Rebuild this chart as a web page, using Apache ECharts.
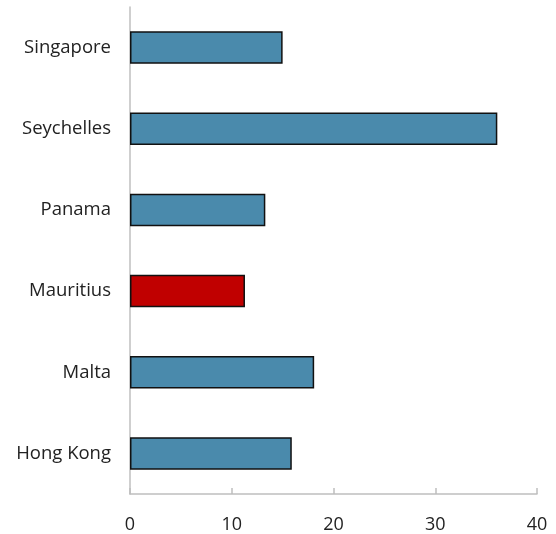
<!DOCTYPE html>
<html><head><meta charset="utf-8">
<script src="https://cdn.jsdelivr.net/npm/echarts@6/dist/echarts.min.js"></script>
<style>html,body{margin:0;padding:0;background:#fff}#c{width:556px;height:534px}</style>
</head><body><div id="c"></div>
<script>
const categories = ["Hong Kong", "Malta", "Mauritius", "Panama", "Seychelles", "Singapore"];
const values = [15.9, 18.1, 11.3, 13.3, 36.1, 15.0];
const highlight = "Mauritius";
const xTicks = [0, 10, 20, 30, 40];

const chart = echarts.init(document.getElementById('c'));
chart.setOption({
  animation: false,
  grid: {left: 130, right: 19, top: 7, bottom: 39, containLabel: false},
  xAxis: {
    type: 'value', min: xTicks[0], max: xTicks[xTicks.length-1], interval: 10,
    axisLine: {show: true, lineStyle: {color: '#bfbfbf', width: 1.5}},
    axisTick: {show: true, inside: true, length: 6, lineStyle: {color: '#bfbfbf', width: 1.5}},
    splitLine: {show: false},
    axisLabel: {color: '#222', fontSize: 18, fontFamily: 'Open Sans', margin: 22}
  },
  yAxis: {
    type: 'category', data: categories,
    axisLine: {show: true, lineStyle: {color: '#bfbfbf', width: 1.5}},
    axisTick: {show: false},
    axisLabel: {color: '#222', fontSize: 18.5, fontFamily: 'Open Sans', margin: 19}
  },
  series: [{
    type: 'bar', barWidth: '40%',
    data: values.map((v, i) => ({
      value: v,
      itemStyle: {color: categories[i] === highlight ? '#c00000' : '#4a8aac'}
    })),
    itemStyle: {borderColor: '#111', borderWidth: 1.5}
  }]
});
</script></body></html>
